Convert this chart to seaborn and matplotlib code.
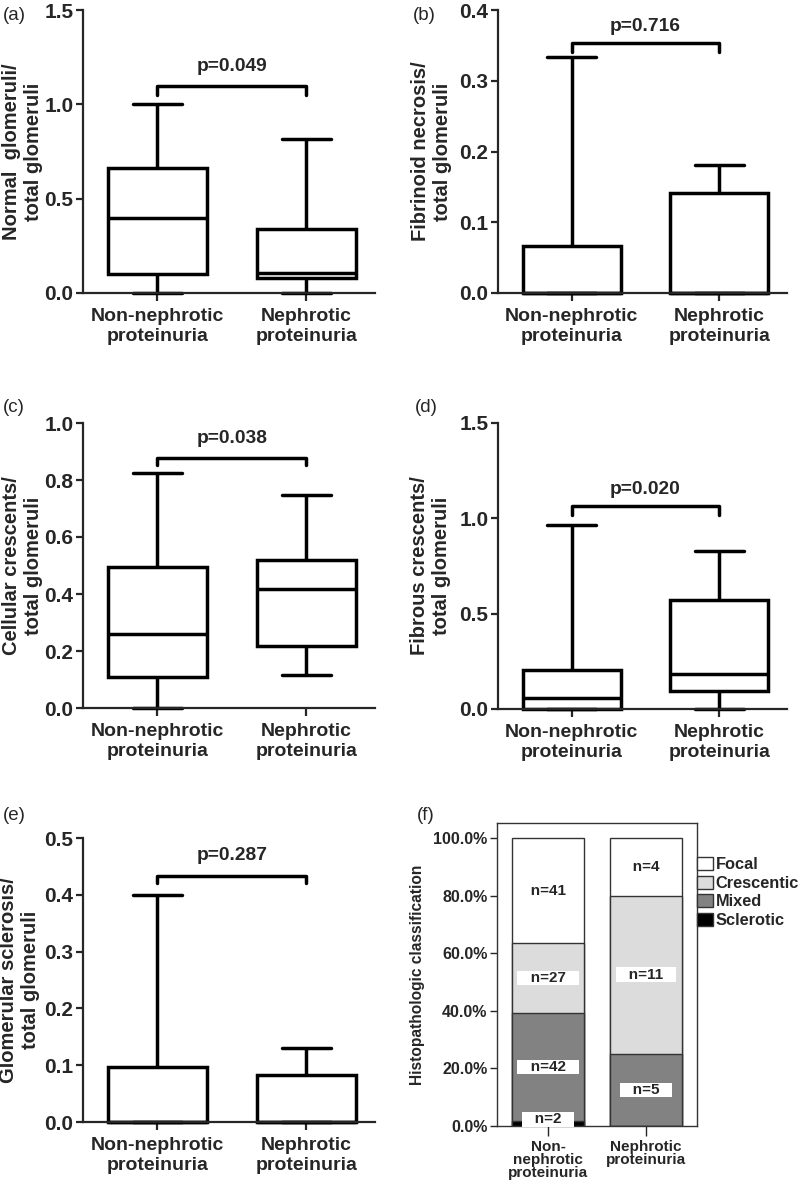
import numpy as np
import pandas as pd
import seaborn as sns
import matplotlib.pyplot as plt
from matplotlib.patches import Patch

sns.set_style('ticks')
plt.rcParams['font.family'] = ['Liberation Sans', 'DejaVu Sans']
plt.rcParams['font.weight'] = 'bold'

groups = ['Non-nephrotic\nproteinuria', 'Nephrotic\nproteinuria']

# five-number summaries: min, q1, median, q3, max
normal_non = [0.0, 0.10, 0.40, 0.665, 1.0]
normal_nep = [0.0, 0.08, 0.107, 0.34, 0.815]
fibrinoid_non = [0.0, 0.0, 0.0, 0.067, 0.333]
fibrinoid_nep = [0.0, 0.0, 0.0, 0.142, 0.181]
cellular_non = [0.0, 0.108, 0.259, 0.495, 0.823]
cellular_nep = [0.115, 0.218, 0.419, 0.519, 0.746]
fibrous_non = [0.0, 0.0, 0.06, 0.207, 0.965]
fibrous_nep = [0.0, 0.092, 0.181, 0.574, 0.828]
sclerosis_non = [0.0, 0.0, 0.0, 0.097, 0.399]
sclerosis_nep = [0.0, 0.0, 0.0, 0.083, 0.130]

p_values = ['p=0.049', 'p=0.716', 'p=0.038', 'p=0.020', 'p=0.287']
ylabels = ['Normal  glomeruli/\ntotal glomeruli',
           'Fibrinoid necrosis/\ntotal glomeruli',
           'Cellular crescents/\ntotal glomeruli',
           'Fibrous crescents/\ntotal glomeruli',
           'Glomerular sclerosis/\ntotal glomeruli']

# panel (f): counts per class
classes = ['Focal', 'Crescentic', 'Mixed', 'Sclerotic']
counts_non = [41, 27, 42, 2]
counts_nep = [4, 11, 5, 0]
groups_f = ['Non-\nnephrotic\nproteinuria', 'Nephrotic\nproteinuria']
class_colors = ['white', '#dcdcdc', '#828282', 'black']

W, H = 800, 1184
fig = plt.figure(figsize=(W / 100, H / 100), dpi=100)


def fig_axes(left, top, right, bottom):
    return fig.add_axes([left / W, 1 - bottom / H, (right - left) / W,
                         (bottom - top) / H])


# (ymax, tick step, bracket y, bracket drop y, p text y)
panel_setup = [(1.5, 0.5, 1.095, 1.05, 1.2),
               (0.4, 0.1, 0.353, 0.34, 0.377),
               (1.0, 0.2, 0.878, 0.853, 0.947),
               (1.5, 0.5, 1.063, 1.015, 1.15),
               (0.5, 0.1, 0.433, 0.42, 0.47)]
box_data = [(normal_non, normal_nep), (fibrinoid_non, fibrinoid_nep),
            (cellular_non, cellular_nep), (fibrous_non, fibrous_nep),
            (sclerosis_non, sclerosis_nep)]
box_pos = [(83, 10, 375, 293), (498, 10, 787, 293),
           (83, 423, 375, 708), (498, 423, 787, 709),
           (83, 838, 375, 1122)]
label_right = [43, 452, 43, 451, 40]

for i in range(5):
    ax = fig_axes(*box_pos[i])
    non, nep = box_data[i]
    ymax, step, br, drop, ptxt = panel_setup[i]
    df = pd.DataFrame({'group': [groups[0]] * 5 + [groups[1]] * 5,
                       'value': non + nep})
    sns.boxplot(data=df, x='group', y='value', order=groups, whis=(0, 100),
                width=0.665, color='white', linecolor='black', linewidth=2.5,
                fliersize=0, ax=ax)
    for art in ax.patches + ax.lines:
        art.set_clip_on(False)
    ax.plot([0, 0, 1, 1], [drop, br, br, drop], color='black', lw=2.5,
            clip_on=False)
    ax.text(0.5, ptxt, p_values[i], ha='center', va='center', fontsize=13.8,
            fontweight='bold')
    ax.set_xlim(-0.5, 1.46)
    ax.set_ylim(0, ymax)
    ticks = np.arange(0, ymax + 1e-9, step)
    ax.set_yticks(ticks)
    ax.set_yticklabels([f'{t:.1f}' for t in ticks])
    ax.set_xlabel('')
    ax.set_ylabel(ylabels[i], fontsize=14.5, fontweight='bold')
    l, t, r, b = box_pos[i]
    ax.yaxis.set_label_coords((label_right[i] - l) / (r - l), 0.5)
    sns.despine(ax=ax)
    for s in ['left', 'bottom']:
        ax.spines[s].set_linewidth(1.6)
    ax.tick_params(axis='y', labelsize=15, width=1.6, length=5, pad=2)
    ax.tick_params(axis='x', labelsize=14, width=1.6, length=6, pad=5)

# panel (f) stacked bars
pct = np.array([counts_non, counts_nep], float)
pct = pct / pct.sum(axis=1, keepdims=True) * 100
tops = np.cumsum(pct[:, ::-1], axis=1)[:, ::-1]
counts = np.array([counts_non, counts_nep])

axf = fig_axes(497, 823, 697, 1126)
for k, cls in enumerate(classes):
    sns.barplot(x=groups_f, y=tops[:, k], color=class_colors[k], saturation=1,
                edgecolor='#333333', linewidth=1, width=0.735, errorbar=None,
                ax=axf)
for g in range(2):
    for k in range(4):
        if counts[g, k] == 0:
            continue
        yc = max(tops[g, k] - pct[g, k] / 2, 2.3)
        axf.text(g, yc, f'   n={counts[g, k]}   ', ha='center', va='center',
                 fontsize=11, fontweight='bold',
                 bbox=dict(facecolor='white', edgecolor='none', pad=0.2))
axf.set_xlim(-0.52, 1.52)
axf.set_ylim(0, 105.2)
yt = np.arange(0, 101, 20)
axf.set_yticks(yt)
axf.set_yticklabels([f'{v:.1f}%' for v in yt])
axf.set_ylabel('Histopathologic classification', fontsize=11.2,
               fontweight='bold', labelpad=6)
for s in axf.spines.values():
    s.set_linewidth(1)
    s.set_color('#333333')
axf.tick_params(axis='y', labelsize=11.5, length=5, width=1, pad=2)
axf.tick_params(axis='x', labelsize=11, length=7, width=1, pad=3)
for lbl in axf.get_xticklabels():
    lbl.set_linespacing(0.92)
handles = [Patch(facecolor=c, edgecolor='#333333', label=lab)
           for c, lab in zip(class_colors, classes)]
axf.legend(handles=handles, loc='upper left', bbox_to_anchor=(1.0, 0.887),
           frameon=False, borderaxespad=0, borderpad=0, handlelength=0.95,
           handleheight=0.85, handletextpad=0.2, labelspacing=0.2,
           prop={'size': 11.8, 'weight': 'bold'})

# panel letters
for lab, x, y in [('(a)', 3, 15), ('(b)', 413, 15), ('(c)', 3, 407),
                  ('(d)', 415, 407), ('(e)', 3, 815), ('(f)', 417, 815)]:
    fig.text(x / W, 1 - y / H, lab, fontsize=13.5, fontweight='normal',
             va='center', ha='left')

fig.savefig('out.png', dpi=100)
